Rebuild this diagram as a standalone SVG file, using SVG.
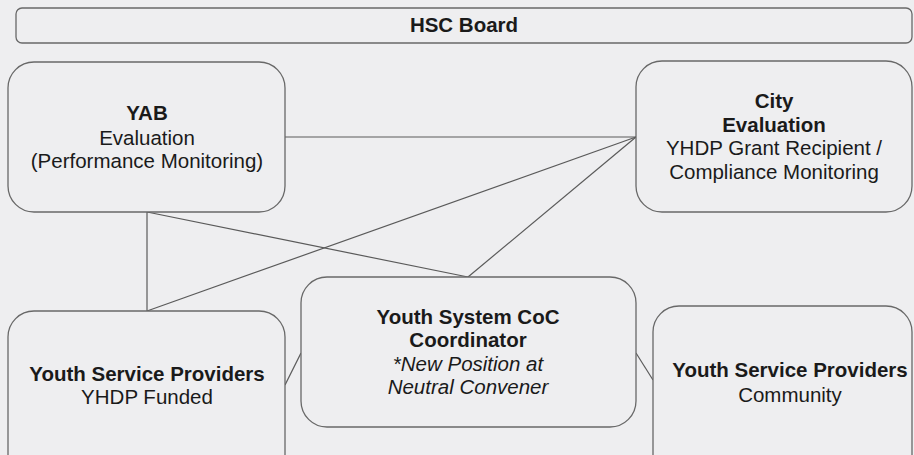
<svg xmlns="http://www.w3.org/2000/svg" width="914" height="455" viewBox="0 0 914 455">
  <style>
    .box { fill: #eeeef0; stroke: #686868; stroke-width: 1.3; }
    .link { stroke: #5a5a5a; stroke-width: 1.2; fill: none; }
    text { font-family: "Liberation Sans", Arial, sans-serif; font-size: 20.5px; fill: #1a1a1a; text-anchor: middle; }
    .b { font-weight: bold; }
    .i { font-style: italic; }
  </style>
  <rect width="914" height="455" fill="#eeeef0"/>

  <!-- connectors -->
  <g id="connectors">
    <line class="link" x1="285" y1="137" x2="636" y2="137"/>
    <line class="link" x1="147" y1="311" x2="636" y2="137"/>
    <line class="link" x1="468" y1="277" x2="636" y2="137"/>
    <line class="link" x1="147" y1="212" x2="147" y2="311"/>
    <line class="link" x1="147" y1="212" x2="468" y2="277"/>
    <line class="link" x1="285" y1="385" x2="301" y2="353"/>
    <line class="link" x1="636" y1="353" x2="653" y2="380"/>
  </g>

  <g id="hsc-board">
    <rect class="box" x="16" y="8" width="896" height="35" rx="6"/>
    <text class="b" x="464" y="32">HSC Board</text>
  </g>

  <g id="yab">
    <rect class="box" x="8" y="62" width="277" height="150" rx="26"/>
    <text class="b" x="147" y="120">YAB</text>
    <text x="147" y="145">Evaluation</text>
    <text x="147" y="168">(Performance Monitoring)</text>
  </g>

  <g id="city">
    <rect class="box" x="636" y="61" width="276" height="151" rx="26"/>
    <text class="b" x="774" y="108">City</text>
    <text class="b" x="774" y="132">Evaluation</text>
    <text x="774" y="155">YHDP Grant Recipient /</text>
    <text x="774" y="179">Compliance Monitoring</text>
  </g>

  <g id="ysp-funded">
    <rect class="box" x="8" y="311" width="277" height="170" rx="26"/>
    <text class="b" x="147" y="381">Youth Service Providers</text>
    <text x="147" y="404">YHDP Funded</text>
  </g>

  <g id="coordinator">
    <rect class="box" x="301" y="277" width="335" height="150" rx="26"/>
    <text class="b" x="468" y="324">Youth System CoC</text>
    <text class="b" x="468" y="347">Coordinator</text>
    <text class="i" x="468" y="371">*New Position at</text>
    <text class="i" x="468" y="394">Neutral Convener</text>
  </g>

  <g id="ysp-community">
    <rect class="box" x="653" y="306" width="259" height="175" rx="26"/>
    <text class="b" x="790" y="377">Youth Service Providers</text>
    <text x="790" y="402">Community</text>
  </g>
</svg>
